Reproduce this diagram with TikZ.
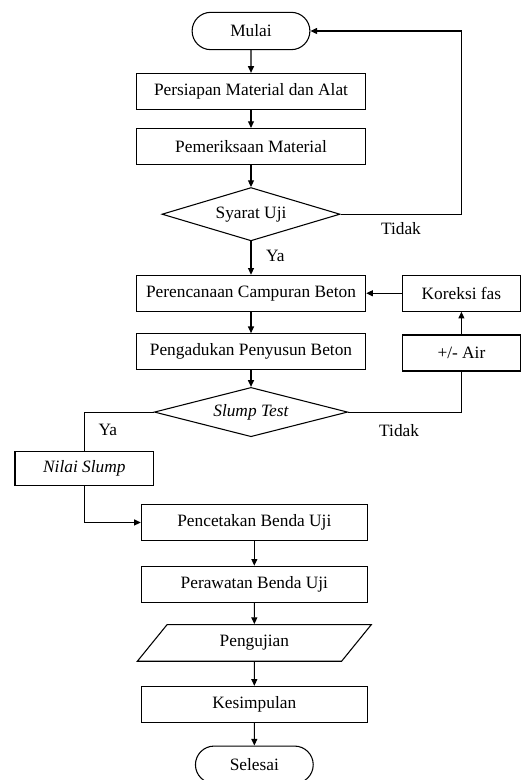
\documentclass[tikz,border=0pt]{standalone}
\usepackage{fontspec}
\setmainfont{Liberation Serif}
\usetikzlibrary{shapes.geometric,shapes.misc,arrows.meta,positioning}
\tikzset{
  terminal/.style={rounded rectangle, draw=black, line width=0.8pt,
                   minimum width=95pt, minimum height=28pt},
  proses/.style={rectangle, draw=black, line width=0.8pt,
                 minimum width=172pt, minimum height=27pt},
  kecil/.style={proses, minimum width=88pt},
  keputusan/.style={diamond, draw=black, line width=0.8pt, inner sep=0pt, aspect=3.4},
  masukan/.style={trapezium, trapezium left angle=39, trapezium right angle=141,
                  trapezium stretches body, draw=black, line width=0.8pt,
                  minimum width=175.5pt, minimum height=27.5pt},
  panah/.style={-{Triangle[length=5pt,width=4.5pt]}, line width=0.8pt},
  garis/.style={line width=0.8pt},
  ket/.style={inner sep=1pt}
}
\begin{document}
\begin{tikzpicture}[font=\fontsize{13}{15.5}\selectfont]
  \useasboundingbox (0,0) rectangle (390.75pt,-585pt);
  \node[terminal] (mulai) at (188.25pt,-23.25pt) {Mulai};
  \node[proses, below=17pt of mulai] (persiapan) {Persiapan Material dan Alat};
  \node[proses, below=13.5pt of persiapan] (periksa) {Pemeriksaan Material};
  \node[keputusan, minimum width=133.5pt, minimum height=40pt, below=16.5pt of periksa] (syarat) {Syarat Uji};
  \node[proses, below=25pt of syarat] (rencana) {Perencanaan Campuran Beton};
  \node[proses, below=16pt of rencana] (aduk) {Pengadukan Penyusun Beton};
  \node[keputusan, aspect=3.9, minimum width=145pt, minimum height=37pt, below=12.5pt of aduk] (slump) {\textit{Slump Test}};
  \node[kecil, right=27pt of rencana] (koreksi) {Koreksi fas};
  \node[kecil, below=17pt of koreksi] (air) {+/- Air};
  \node[proses, minimum width=104pt, minimum height=25.5pt, below=10.5pt of slump.south, xshift=-125pt] (nilai) {\textit{Nilai Slump}};
  \node[proses, minimum width=169.5pt, below=50pt of slump.south, xshift=2.5pt] (cetak) {Pencetakan Benda Uji};
  \node[proses, minimum width=169.5pt, below=18.5pt of cetak] (rawat) {Perawatan Benda Uji};
  \node[masukan, below=16pt of rawat] (uji) {Pengujian};
  \node[proses, minimum width=169.5pt, below=18pt of uji] (simpul) {Kesimpulan};
  \node[terminal, below=17pt of simpul] (selesai) {Selesai};

  \draw[panah] (mulai) -- (persiapan);
  \draw[panah] (persiapan) -- (periksa);
  \draw[panah] (periksa) -- (syarat);
  \draw[panah] (syarat) -- node[ket, pos=0.43, right=10pt] {Ya} (rencana);
  \draw[panah] (syarat.east) -- node[ket, below=5pt] {Tidak} (syarat.east -| koreksi) |- (mulai.east);
  \draw[panah] (rencana) -- (aduk);
  \draw[panah] (aduk) -- (slump);
  \draw[panah] (koreksi) -- (rencana);
  \draw[panah] (air) -- (koreksi);
  \draw[garis] (slump.east) -- node[ket, pos=0.45, below=8pt] {Tidak} (slump.east -| air) -- (air);
  \draw[garis] (slump.west) -- node[ket, pos=0.66, below=8pt] {Ya} (slump.west -| nilai) -- (nilai);
  \draw[panah] (nilai) |- (cetak);
  \draw[panah] (cetak) -- (rawat);
  \draw[panah] (rawat) -- (uji);
  \draw[panah] (uji) -- (simpul);
  \draw[panah] (simpul) -- (selesai);
\end{tikzpicture}
\end{document}
